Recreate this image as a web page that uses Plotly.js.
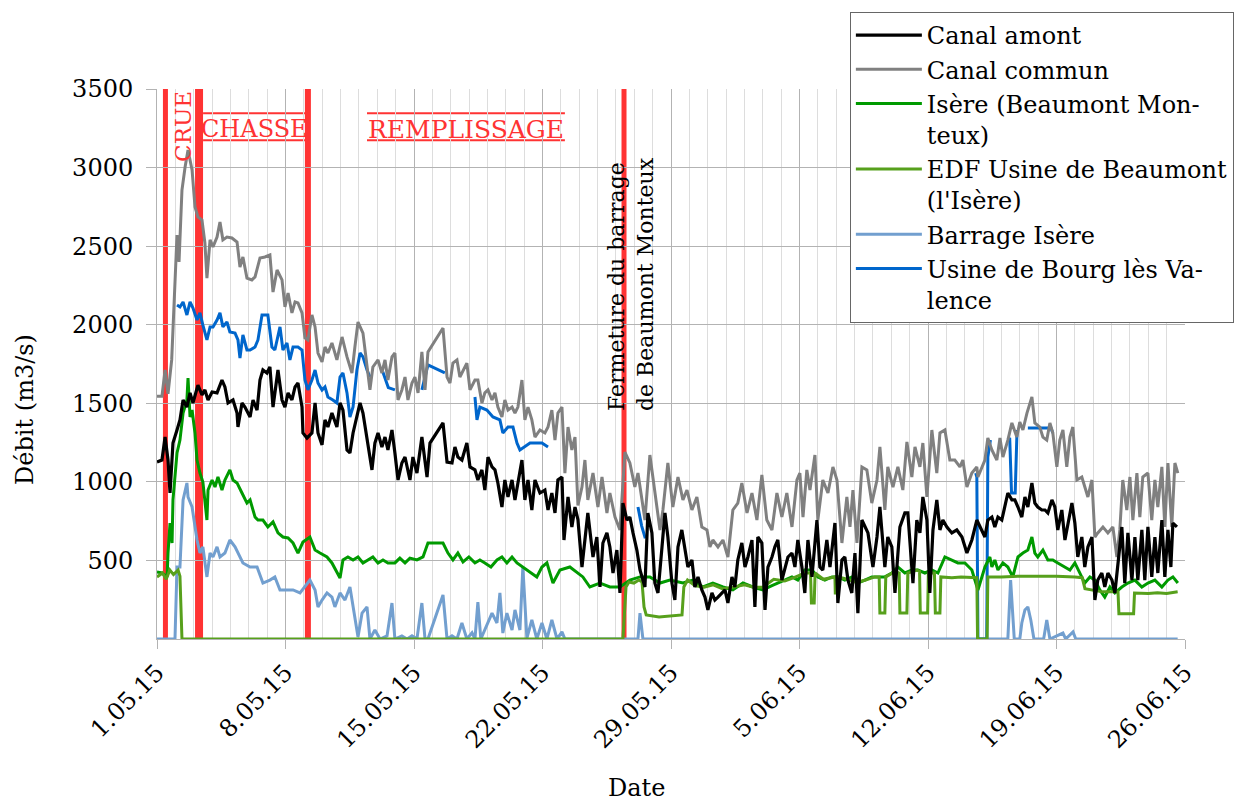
<!DOCTYPE html>
<html>
<head>
<meta charset="utf-8">
<script src="https://cdn.plot.ly/plotly-3.0.1.min.js"></script>
<style>html,body{margin:0;padding:0;background:#fff;}#chart{width:1236px;height:803px;}</style>
</head>
<body>
<div id="chart"></div>
<script>
// Time offsets are in days from 1 May 2015 00:00
const grayT = [0,0.27,0.44,0.6,0.8,0.98,1.09,1.2,1.25,1.36,
1.53,1.69,1.91,2.07,2.23,2.45,2.61,2.72,2.89,3.05,
3.27,3.43,3.59,3.81,4.08,4.36,4.52,4.68,4.90,5.17,
5.34,5.61,5.88,6.15,6.32,6.54,6.81,6.97,7.14,7.35,
7.52,7.68,7.90,8.06,8.22,8.44,8.61,8.77,8.99,9.15,
9.31,9.53,9.80,10.08,10.35,10.62,10.78,10.95,11.22,11.44,
11.60,11.76,12.04,12.25,12.42,12.58,12.80,12.96,13.13,13.34,
13.51,13.67,13.89,14.05,14.22,14.43,14.60,14.76,15.58,15.80,
15.96,16.12,16.34,16.50,16.67,16.88,17.05,17.32,17.48,17.70,
17.86,18.03,18.25,18.41,18.57,18.79,18.95,19.12,19.34,19.50,
19.66,19.88,20.04,20.21,20.42,20.59,20.86,21.13,21.30,21.51,
21.68,21.84,22.06,22.22,22.39,22.60,22.77,22.93,23.15,23.31,
23.47,23.75,24.02,24.24,24.51,24.67,24.95,25.22,25.49,25.76,
26.03,26.20,26.42,26.58,26.85,27.12,27.40,27.56,27.83,28.10,
28.38,28.65,28.87,29.14,29.41,29.68,29.96,30.12,30.28,30.56,
30.83,31.10,31.37,31.64,31.86,32.14,32.41,32.68,32.95,33.22,
33.50,33.77,34.04,34.31,34.59,34.86,35.02,35.19,35.40,35.57,
35.84,36.00,36.27,36.55,36.82,37.04,37.31,37.58,37.75,37.91,
38.13,38.40,38.67,38.94,39.22,39.38,39.65,39.81,40.09,40.36,
40.63,40.85,41.12,41.29,41.56,41.72,41.94,42.21,42.48,42.65,
42.92,43.19,43.46,43.74,43.90,44.12,44.39,44.66,44.72,45.10,
45.26,45.48,45.75,45.92,46.08,46.35,46.57,46.84,47.00,47.17,
47.39,47.66,47.82,48.09,48.26,48.47,48.64,48.80,49.02,49.18,
49.35,49.56,49.73,49.89,50.11,50.38,50.54,50.71,50.93,51.09,
51.25,51.53,51.80,52.07,52.29,52.45,52.61,52.83,53.00,53.16,
53.38,53.54,53.70,53.98,54.19,54.36,54.52,54.74,54.90,55.07,
55.28,55.45,55.61];
const grayV = [1545,1545,1712,1560,1776,2285,2571,2400,2540,2857,
3004,3112,2985,2749,2686,2666,2520,2297,2540,2495,
2558,2654,2540,2558,2552,2526,2367,2431,2297,2285,
2304,2425,2431,2444,2208,2348,2285,2113,2202,2075,
2145,2138,2075,1916,1903,2062,1986,1820,1763,1858,
1820,1884,1776,1922,1795,1693,1858,2017,1947,1731,
1585,1731,1776,1693,1776,1648,1795,1820,1521,1585,
1667,1521,1629,1667,1566,1827,1585,1827,1979,1667,
1629,1756,1776,1667,1712,1756,1585,1648,1648,1502,
1566,1585,1521,1566,1476,1413,1521,1457,1476,1438,
1476,1648,1394,1476,1394,1285,1330,1311,1349,1457,
1266,1438,1476,1056,1349,1203,1285,850,967,1139,
885,1056,840,1031,802,929,776,694,1190,1120,
967,1056,885,757,1171,929,694,821,1120,840,
1031,885,948,821,904,713,694,586,630,586,
630,522,821,865,993,802,929,757,1044,757,
694,929,776,929,713,1012,1056,776,1076,948,
1171,757,1012,929,1095,1012,611,904,713,948,
611,1095,1076,865,1012,1222,821,1095,967,1095,
948,1254,1031,1222,1095,1247,904,1330,1056,1311,
1330,1139,1139,1095,1139,967,1056,1095,1031,1139,
1279,1203,1139,1279,1158,1266,1375,1285,1381,1330,
1438,1540,1375,1349,1285,1266,1375,1311,1095,1266,
1330,1095,1285,1349,1012,1031,967,904,1012,649,
675,713,675,713,522,694,1012,821,1031,757,
1056,776,1031,1056,757,1012,840,1095,713,1120,
713,1120,1056];

const blackT = [0,0.27,0.44,0.60,0.71,0.87,1.09,1.25,1.42,1.63,
1.80,1.96,2.23,2.45,2.61,2.78,3.00,3.27,3.54,3.70,
3.87,4.14,4.36,4.41,4.63,4.79,5.07,5.23,5.45,5.61,
5.77,5.99,6.15,6.32,6.59,6.81,6.97,7.14,7.35,7.52,
7.68,7.90,7.95,8.17,8.44,8.61,8.77,8.99,9.15,9.31,
9.53,9.80,9.97,10.13,10.35,10.51,10.68,10.89,11.06,11.22,
11.44,11.71,11.87,12.04,12.25,12.42,12.58,12.80,12.96,13.13,
13.34,13.51,13.78,13.94,14.16,14.43,14.71,14.87,15.58,15.80,
16.07,16.23,16.39,16.61,16.88,17.05,17.32,17.48,17.70,17.86,
18.03,18.25,18.41,18.57,18.79,18.95,19.12,19.34,19.50,19.66,
19.88,20.04,20.21,20.42,20.59,20.86,21.13,21.30,21.51,21.68,
21.84,22.06,22.17,22.39,22.60,22.77,22.93,23.15,23.31,23.47,
23.75,23.96,24.13,24.29,24.51,24.67,24.84,25.05,25.22,25.38,
25.60,25.76,25.93,26.14,26.31,26.58,26.74,26.96,27.12,27.29,
27.51,27.67,27.83,28.05,28.21,28.38,28.59,28.76,28.92,29.14,
29.30,29.47,29.68,29.85,30.01,30.23,30.39,30.56,30.77,30.94,
31.10,31.32,31.48,31.64,31.86,32.03,32.19,32.41,32.57,32.73,
32.95,33.12,33.28,33.50,33.66,33.82,34.04,34.20,34.37,34.59,
34.75,34.91,35.13,35.29,35.46,35.68,35.95,36.11,36.27,36.49,
36.66,36.93,37.09,37.31,37.47,37.64,37.85,38.02,38.18,38.40,
38.56,38.73,39.00,39.22,39.38,39.65,39.81,40.03,40.20,40.47,
40.74,40.90,41.18,41.39,41.56,41.72,41.94,42.10,42.27,42.48,
42.65,42.81,43.03,43.30,43.57,43.85,44.12,44.39,44.66,44.93,
45.10,45.26,45.48,45.64,45.81,46.02,46.19,46.35,46.57,46.73,
46.90,47.11,47.28,47.44,47.66,47.82,47.98,48.20,48.37,48.53,
48.75,48.91,49.07,49.29,49.46,49.62,49.84,50.00,50.16,50.38,
50.54,50.71,50.93,51.09,51.25,51.47,51.63,51.80,52.02,52.18,
52.34,52.56,52.72,52.89,53.11,53.27,53.43,53.65,53.81,53.98,
54.19,54.36,54.52,54.74,54.90,55.07,55.23,55.34,55.56];
const blackV = [1126,1139,1285,1139,929,1247,1330,1394,1521,1476,
1566,1502,1616,1553,1585,1521,1572,1566,1648,1604,
1502,1521,1438,1349,1502,1476,1413,1521,1457,1648,
1712,1693,1731,1476,1712,1521,1476,1566,1521,1604,
1629,1476,1311,1279,1311,1502,1311,1235,1394,1349,
1438,1349,1502,1457,1203,1184,1311,1413,1502,1438,
1266,1076,1247,1311,1222,1285,1203,1330,1184,1012,
1120,1158,1012,1158,1056,1285,1031,1247,1375,1126,
1120,1222,1158,1139,1247,1095,1076,1012,1076,948,
1158,1095,1076,993,840,1012,904,1012,885,993,
1139,885,1012,821,1012,929,948,821,929,802,
1012,1031,630,904,713,840,760,458,630,802,
522,649,331,611,675,586,420,566,293,865,
757,776,675,566,439,331,802,675,356,293,
586,802,649,356,248,586,694,586,458,503,
331,395,312,267,185,293,248,267,293,312,
229,395,331,503,611,458,522,630,204,649,
611,185,458,522,586,630,375,450,522,547,
458,630,458,293,630,395,757,458,439,630,
458,738,229,503,522,375,293,547,165,757,
713,675,458,649,840,458,649,586,293,713,
802,802,356,757,675,904,757,293,694,885,
694,757,713,675,694,649,547,630,757,694,
649,757,776,713,776,757,840,929,885,885,
840,776,904,840,993,865,840,821,821,802,
885,840,694,821,630,738,865,738,522,649,
458,586,649,248,375,420,331,420,375,293,
458,713,356,675,375,649,375,694,375,713,
395,649,420,757,395,694,458,738,713];

const isereT = [0,0.27,0.55,0.60,0.71,0.82,0.87,1.09,1.25,1.42,
1.63,1.69,1.80,1.91,2.07,2.18,2.34,2.50,2.72,2.78,
3.00,3.16,3.32,3.54,3.70,3.97,4.14,4.36,4.63,4.90,
5.07,5.34,5.50,5.77,6.04,6.32,6.59,6.86,7.14,7.41,
7.68,7.95,8.33,8.61,8.88,9.26,9.53,9.80,9.97,10.13,
10.40,10.68,10.95,11.22,11.49,11.76,12.04,12.31,12.58,12.96,
13.23,13.51,13.78,14.16,14.49,14.76,15.58,15.85,16.12,16.39,
16.67,16.99,17.32,17.59,17.86,18.19,18.52,18.79,19.06,19.34,
19.61,19.93,20.15,20.69,20.97,21.24,21.57,21.95,22.49,22.93,
23.20,23.58,24.13,24.67,25.22,25.76,26.31,26.85,27.40,27.94,
28.65,29.19,29.74,30.28,30.83,31.37,31.92,32.46,33.00,33.50,
34.20,34.59,34.91,35.29,35.68,36.00,36.38,36.77,37.09,37.47,
37.85,38.18,38.56,38.94,39.27,39.65,40.03,40.36,40.74,41.12,
41.45,41.83,42.21,42.54,42.92,43.30,43.63,44.01,44.39,44.72,
45.10,45.37,45.48,45.64,45.81,46.08,46.35,46.62,46.90,47.17,
47.44,47.66,47.82,47.98,48.26,48.53,48.80,49.07,49.46,49.73,
50.00,50.27,50.54,50.82,51.09,51.36,51.63,51.91,52.18,52.56,
52.89,53.27,53.65,53.98,54.36,54.74,55.07,55.34,55.61];
const isereV = [426,420,395,547,738,611,885,1184,1266,1438,
1521,1661,1413,1457,1311,1139,1056,999,757,948,
1012,967,1031,948,1012,1076,1012,993,929,865,
885,776,757,757,713,745,675,649,643,611,
547,617,649,566,547,522,484,420,388,503,
522,503,522,484,503,522,484,503,484,484,
515,484,515,503,522,611,611,547,503,547,
490,522,484,503,484,458,503,522,484,522,
484,458,439,395,458,484,356,439,458,420,
395,331,356,331,331,375,395,395,356,375,
356,375,331,356,331,312,356,331,312,340,
375,395,375,439,439,395,375,395,395,375,
395,356,375,395,395,395,420,458,420,439,
439,420,439,420,522,503,484,484,439,312,
458,522,458,503,439,484,458,395,522,547,
566,649,547,522,566,503,503,484,458,439,
484,420,356,395,375,312,267,331,293,331,
356,375,331,356,375,331,375,395,356];

const edfT = [0,0.3,0.5,0.7,0.9,1.15,1.25,1.36,25.38,25.55,
25.71,25.98,26.25,26.42,26.53,26.65,27.35,28.45,28.6,28.7,
28.9,29.3,29.8,30.3,30.8,31.4,32.0,32.5,33.0,33.6,
34.2,34.7,35.3,35.6,35.65,35.8,35.85,36.3,36.8,36.93,
36.95,37.05,37.1,37.6,38.1,38.6,39.1,39.34,39.38,39.65,
39.7,40.2,40.43,40.47,40.85,40.9,41.4,41.54,41.58,41.98,
42.02,42.35,42.4,42.65,42.7,43.3,43.8,44.3,44.66,44.7,
45.22,45.26,46.0,47.0,48.0,49.0,50.0,50.4,50.55,51.0,
51.5,52.0,52.35,52.4,53.2,53.25,54.0,54.5,55.0,55.6];
const edfV = [395,420,380,439,410,439,400,0,0,331,
363,356,375,363,204,153,140,153,153,331,
375,340,330,345,320,330,345,330,330,380,
370,390,420,420,229,229,420,380,395,395,
293,293,395,380,360,375,395,395,165,165,
395,430,420,165,165,420,439,430,165,165,
420,420,165,165,395,390,395,390,390,0,
0,395,395,400,400,400,395,390,320,310,
300,300,300,160,160,293,290,295,290,300];

const barrageT = [0,0.98,1.09,1.25,1.42,1.63,1.69,1.91,2.18,2.34,
2.50,2.72,2.89,3.05,3.27,3.43,3.70,3.97,4.25,4.41,
4.68,5.07,5.45,5.77,6.15,6.42,6.70,7.08,7.41,7.79,
8.06,8.33,8.61,8.77,8.99,9.26,9.53,9.69,9.97,10.24,
10.51,10.78,10.95,11.17,11.44,11.60,11.87,12.15,12.53,12.80,
12.96,13.34,13.62,13.89,14.16,14.43,14.60,14.76,15.58,15.80,
16.07,16.34,16.61,16.88,17.16,17.32,17.48,17.64,18.25,18.52,
18.68,18.84,19.06,19.34,19.50,19.77,19.93,20.15,20.42,20.69,
20.97,21.24,21.51,21.79,22.06,22.22,26.2,26.31,26.47,46.35,
46.5,46.7,47.0,47.11,47.28,47.44,47.6,47.77,48.3,48.47,
48.64,49.35,49.5,49.9,50.05,55.6];
const barrageV = [0,0,458,458,885,993,904,840,630,547,
586,395,547,522,586,522,547,630,586,547,
484,458,458,356,375,395,312,312,312,293,
331,375,312,204,248,293,267,204,293,248,
331,140,13,165,204,0,57,0,20,229,
0,20,0,20,0,229,0,0,280,0,
20,0,102,0,40,0,235,0,165,102,
293,38,165,57,185,57,458,6,121,0,
102,0,121,0,45,0,0,165,0,0,
375,0,0,102,185,204,121,0,0,121,
0,38,0,45,0,0];

const bourgT = [1.09,1.25,1.42,1.63,1.80,1.96,2.18,2.34,2.50,2.72,
2.89,3.05,3.27,3.43,3.59,3.81,3.97,4.25,4.41,4.52,
4.68,4.90,5.07,5.34,5.50,5.72,6.04,6.26,6.42,6.70,
6.86,7.08,7.24,7.41,7.68,7.90,8.06,8.22,8.44,8.61,
8.77,8.99,9.15,9.31,9.58,9.80,9.97,10.13,10.35,10.51,
10.68,10.89,11.06,11.22,11.44,11.60,11.70,12.30,12.60,12.96,
13.00,14.43,14.76,15.68,15.70,17.32,17.43,17.59,17.97,18.30,
18.68,18.84,19.12,19.39,19.61,19.77,20.04,20.32,20.59,20.97,
21.30,21.40,26.20,26.40,26.60,26.70,44.60,44.66,44.72,45.20,
45.26,45.40,45.50,46.35,46.45,46.55,46.75,46.85,46.90,47.44,
48.70,48.80];
const bourgV = [2125,2113,2145,2062,2145,2106,2030,2075,1998,1903,
1986,1986,2030,2075,1986,2017,1954,1947,1903,1788,
1935,1839,1839,1858,1903,2062,2062,1858,1839,1986,
1839,1884,1776,1858,1858,1839,1648,1585,1648,1712,
1629,1585,1604,1540,1521,1502,1667,1693,1566,1413,
1476,1712,1820,1795,1712,1667,null,1700,1600,1585,
null,1585,1744,1693,null,1540,1394,1476,1457,1413,
1394,1311,1349,1349,1247,1203,1222,1247,1247,1247,
1222,null,840,720,640,null,1056,1031,0,0,
1158,1266,null,1266,1280,929,929,1330,null,1343,
1343,1311];

const seriesNames = ['Canal amont','Canal commun','Isère (Beaumont Mon-<br>teux)',
  'EDF Usine de Beaumont<br>(l\'Isère)','Barrage Isère','Usine de Bourg lès Va-<br>lence'];
const yTickVals = [500,1000,1500,2000,2500,3000,3500];
const eventDays = [0.46, 2.29, 8.22, 25.44];
const eventWidths = [5, 8, 6, 5];
const phaseLabels = ['CHASSE','REMPLISSAGE'];
const phaseSpans = [[2.51, 8.06],[11.44, 22.22]];

const BASE = Date.UTC(2015,4,1);
function toDate(d){
  const t = new Date(BASE + d*86400000);
  return t.toISOString().slice(0,19).replace('T',' ');
}
const F = 'DejaVu Serif';

function tr(T, V, name, color, rank, w){
  return {x: T.map(toDate), y: V, name: name, type:'scatter', mode:'lines',
    line:{color: color, width: w}, legendrank: rank, connectgaps:false, hoverinfo:'skip'};
}
const data = [
  tr(barrageT, barrageV, seriesNames[4], '#729fcf', 5, 3),
  tr(bourgT, bourgV, seriesNames[5], '#0066cc', 6, 3),
  tr(grayT, grayV, seriesNames[1], '#808080', 2, 3),
  tr(isereT, isereV, seriesNames[2], '#009a00', 3, 3),
  tr(edfT, edfV, seriesNames[3], '#57a01c', 4, 3),
  tr(blackT, blackV, seriesNames[0], '#000000', 1, 3.2)
];

const shapes = [];
eventDays.forEach((d,i)=>{
  shapes.push({type:'line', xref:'x', yref:'paper', x0:toDate(d), x1:toDate(d), y0:0, y1:1,
    line:{color:'#ff3333', width:eventWidths[i]}, layer:'below'});
});
phaseSpans.forEach(s=>{
  [0.956, 0.907].forEach(yy=>{
    shapes.push({type:'line', xref:'x', yref:'paper', x0:toDate(s[0]), x1:toDate(s[1]), y0:yy, y1:yy,
      line:{color:'#ff3333', width:2}, layer:'below'});
  });
});

function ann(text, x, y, size, color, angle){
  return {text:text, xref:'paper', yref:'paper', x:x, y:y, xanchor:'center', yanchor:'middle',
    textangle:angle||0, showarrow:false, align:'left', font:{family:F, size:size, color:color}};
}
const annotations = [
  ann('CRUE', 0.0253, 0.931, 23, '#ff3333', -90),
  ann(phaseLabels[0], 0.0944, 0.927, 24, '#ff3333'),
  ann(phaseLabels[1], 0.3006, 0.927, 25, '#ff3333'),
  ann('Fermeture du barrage<br>de Beaumont Monteux', 0.4611, 0.6455, 22, '#000', -90),
  ann('Débit (m3/s)', -0.1284, 0.4164, 24, '#000', -90),
  ann('Date', 0.466, -0.2700, 24, '#000')
];

const layout = {
  width:1236, height:803,
  margin:{l:157, r:51, t:89, b:164, autoexpand:false},
  paper_bgcolor:'#ffffff', plot_bgcolor:'#ffffff',
  font:{family:F, size:24, color:'#000'},
  showlegend:true,
  legend:{x:0.674, y:1.14, xanchor:'left', yanchor:'top', bgcolor:'#ffffff', bordercolor:'#666666',
    borderwidth:1, font:{family:F, size:24, color:'#000'}, valign:'top', itemwidth:66, tracegroupgap:0},
  xaxis:{type:'date', range:[toDate(0), toDate(56)], tick0:toDate(0), dtick:7*86400000,
    tickformat:'%-d.%m.%y', tickangle:-45, tickfont:{family:F, size:24, color:'#000'},
    showgrid:true, gridcolor:'#b3b3b3', gridwidth:1,
    minor:{dtick:86400000, showgrid:true, gridcolor:'#dddddd', gridwidth:1},
    showline:true, linecolor:'#b3b3b3', ticks:'outside', ticklen:9, tickcolor:'#b3b3b3',
    zeroline:false, automargin:false, fixedrange:true},
  yaxis:{range:[0,3500], tickvals:yTickVals, tickfont:{family:F, size:24, color:'#000'},
    showgrid:true, gridcolor:'#b3b3b3', gridwidth:1, showline:true, linecolor:'#b3b3b3',
    ticks:'outside', ticklen:10, tickcolor:'#b3b3b3', ticklabelstandoff:8,
    zeroline:false, automargin:false, fixedrange:true},
  shapes: shapes,
  annotations: annotations
};

Plotly.newPlot('chart', data, layout, {displayModeBar:false, staticPlot:true});
</script>
</body>
</html>
